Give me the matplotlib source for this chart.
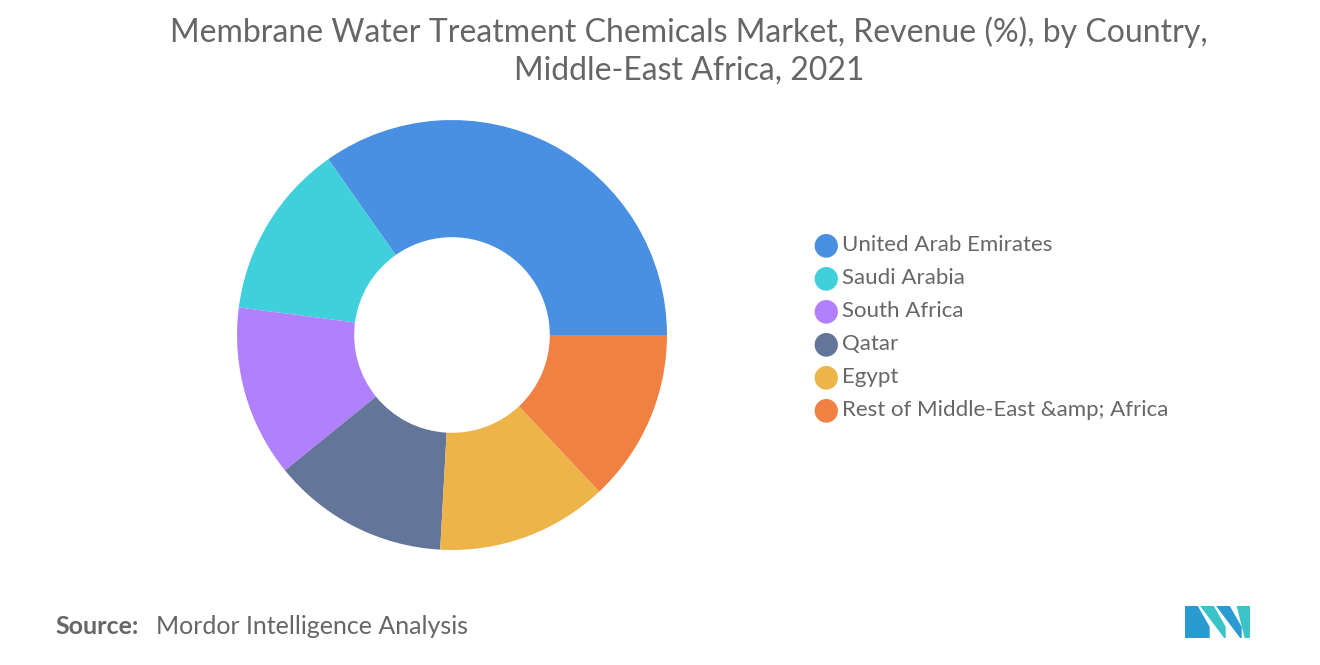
import matplotlib.pyplot as plt
from matplotlib.patches import Polygon

countries = ['United Arab Emirates', 'Saudi Arabia', 'South Africa', 'Qatar', 'Egypt',
             'Rest of Middle-East &amp; Africa']
shares = [34.8, 13.2, 12.9, 13.3, 12.9, 13.0]
colors = ['#4A90E2', '#40D0DB', '#B180FC', '#637599', '#ECB449', '#F08143']

fig = plt.figure(figsize=(13.2, 6.65), dpi=100)
fig.patch.set_facecolor('white')

fig.text(0.522, 0.975, 'Membrane Water Treatment Chemicals Market, Revenue (%), by Country,\nMiddle-East Africa, 2021',
         ha='center', va='top', fontsize=23, color='#666666', family='Lato', linespacing=1.3)

w = 500 / 1320
h = 500 / 665
ax = fig.add_axes([452 / 1320 - w / 2, 1 - 335 / 665 - h / 2, w, h])
ax.pie(shares, colors=colors, startangle=0, counterclock=True, radius=1.0,
       wedgeprops=dict(width=0.545, edgecolor='none'))
ax.set_xlim(-1.163, 1.163)
ax.set_ylim(-1.163, 1.163)
ax.set_aspect('equal')
ax.axis('off')

for i, (name, c) in enumerate(zip(countries, colors)):
    y = 1 - (245 + i * 33) / 665
    fig.text(826 / 1320, y, '\u25CF', color=c, fontsize=22, ha='center', va='center')
    fig.text(842 / 1320, y, name, color='#666666', fontsize=16, ha='left', va='center', family='Lato')

fig.text(55 / 1320, 1 - 627 / 665, 'Source:', fontsize=18, color='#666666', fontweight='bold',
         ha='left', va='center', family='Lato')
fig.text(156 / 1320, 1 - 627 / 665, 'Mordor Intelligence Analysis', fontsize=18, color='#666666',
         ha='left', va='center', family='Lato')

# logo
lax = fig.add_axes([1185 / 1320, 1 - 638 / 665, 65 / 1320, 32 / 665])
lax.set_xlim(0, 65)
lax.set_ylim(0, 35)
lax.axis('off')
lax.add_patch(Polygon([[0, 0], [0, 35], [12, 35], [24, 12], [24, 0]], color='#2A9BD0'))
lax.add_patch(Polygon([[16, 35], [28, 35], [40, 12], [40, 0]], color='#3BC4C8'))
lax.add_patch(Polygon([[32, 35], [44, 35], [56, 12], [56, 0]], color='#2A9BD0'))
lax.add_patch(Polygon([[52, 35], [65, 35], [65, 0], [60, 0]], color='#3BC4C8'))

fig.savefig('out.png', dpi=100, facecolor='white')
